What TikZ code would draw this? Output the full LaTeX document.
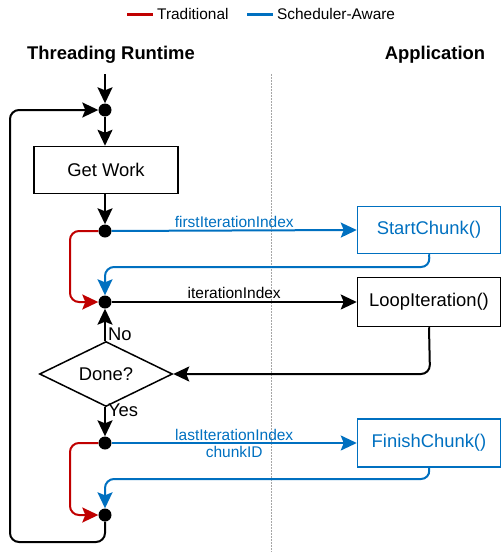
\documentclass[tikz,border=0pt]{standalone}
\usepackage{fontspec}
\setmainfont{Liberation Sans}
\usetikzlibrary{shapes.geometric,arrows.meta}
\definecolor{tred}{HTML}{C00000}
\definecolor{tblue}{HTML}{0070C0}
\begin{document}
\begin{tikzpicture}[x=1pt,y=-1pt,
  conn/.style={line width=2pt,rounded corners=9pt,-{Stealth[length=16pt,width=15pt,inset=3pt]}},
  dot/.style={circle,fill=black,inner sep=0pt,minimum size=13pt},
  box/.style={draw,line width=1.5pt,minimum width=143pt,minimum height=47pt,inner sep=0pt,font=\fontsize{18.4}{22}\selectfont},
  lbl/.style={font=\fontsize{15.5}{17}\selectfont,inner sep=2pt},
  head/.style={font=\fontsize{18.4}{22}\selectfont\bfseries},
  leg/.style={font=\fontsize{15.4}{18}\selectfont,anchor=west,inner sep=0pt}]
\useasboundingbox (0,0) rectangle (501,552);
% legend
\draw[tred,line width=3pt] (127,14) -- (153,14);
\node[leg] (lt) at (157,14) {Traditional};
\draw[tblue,line width=3pt] (247,14) -- (273,14);
\node[leg] (ls) at (277,14) {Scheduler-Aware};
% headings
\node[head] (hr) at (111,55) {Threading Runtime};
\node[head] (ha) at (435,55) {Application};
% separator
\draw[gray!70,line width=1pt,dash pattern=on 2pt off 1pt] (271,74) -- (271,552);
% nodes
\coordinate (top) at (105,74);
\node[dot] (d0) at (105,110) {};
\node[box,minimum width=144pt] (gw) at (106,170) {Get Work};
\node[dot] (d1) at (105,231) {};
\node[box,draw=tblue,text=tblue] (sc) at (429,230) {StartChunk()};
\node[dot] (d2) at (105,302) {};
\node[box,minimum height=49pt] (li) at (429,302) {LoopIteration()};
\node[diamond,draw,line width=1.5pt,minimum width=133pt,minimum height=65pt,aspect=2.05,inner sep=0pt,font=\fontsize{18.4}{22}\selectfont] (dn) at (106,374) {Done?};
\node[dot] (d3) at (105,443) {};
\node[box,draw=tblue,text=tblue,minimum height=48pt] (fc) at (429,443) {FinishChunk()};
\node[dot] (d4) at (105,515) {};
% connectors
\draw[conn] (top) -- (d0);
\draw[conn] (d0) -- (gw.north -| d0);
\draw[conn] (gw.south -| d1) -- (d1);
\draw[conn,tblue] (d1) -- node[lbl,above,text=tblue] {firstIterationIndex} (sc.west);
\draw[conn,tblue] (sc.south) -- (430,267) -- (105,267) -- (d2);
\draw[conn,tred] (d1) -- (70,231) -- (70,302) -- (d2);
\draw[conn] (d2) -- node[lbl,above] {iterationIndex} (li.west);
\draw[conn] (li.south) -- (430,374) -- (dn.east);
\draw[conn] (dn.north -| d2) -- node[lbl,right,pos=0.2,font=\fontsize{18.4}{22}\selectfont] {No} (d2);
\draw[conn] (dn.south -| d3) -- node[lbl,right,pos=0.1,font=\fontsize{18.4}{22}\selectfont] {Yes} (d3);
\draw[conn,tblue] (d3) -- node[lbl,align=center,text=tblue] {lastIterationIndex\\chunkID} (fc.west);
\draw[conn,tblue] (fc.south) -- (430,479) -- (105,479) -- (d4);
\draw[conn,tred] (d3) -- (70,443) -- (70,515) -- (d4);
\draw[conn] (d4) -- (105,542) -- (10,542) -- (10,110) -- (d0);
\end{tikzpicture}
\end{document}
